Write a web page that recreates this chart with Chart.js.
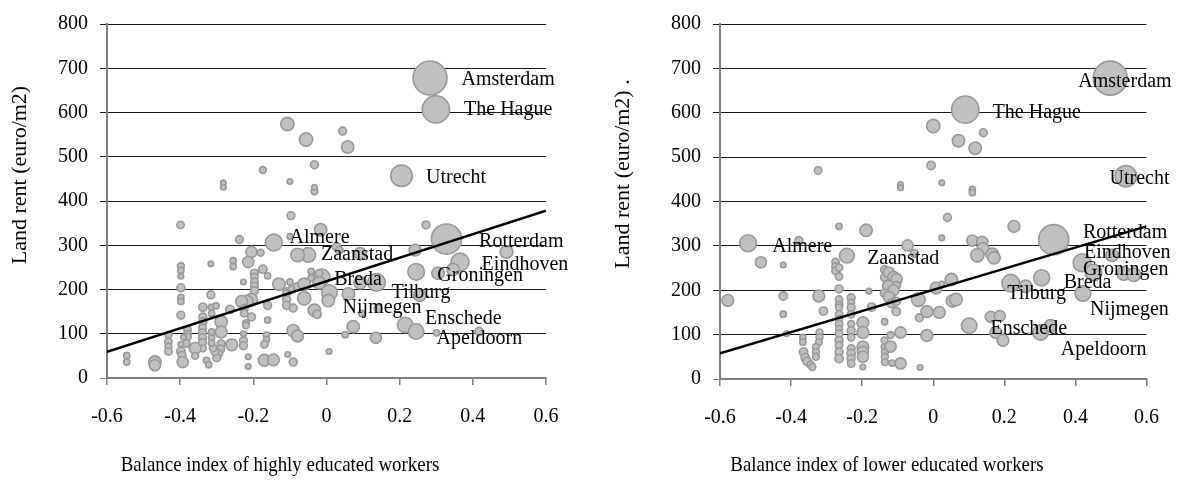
<!DOCTYPE html>
<html>
<head>
<meta charset="utf-8">
<script src="https://cdn.jsdelivr.net/npm/chart.js@4.4.0/dist/chart.umd.min.js"></script>
<style>
  body { margin: 0; background: #fff; }
  #left { position: absolute; left: 0; top: 0; }
  #right { position: absolute; left: 590px; top: 0; }
</style>
</head>
<body>
<canvas id="left" width="590" height="480"></canvas>
<canvas id="right" width="589" height="480"></canvas>
<script>
// Named cities: land rent, size (x1000 inhabitants), balance index high / low educated
const cityNames = ['Amsterdam', 'The Hague', 'Utrecht', 'Rotterdam', 'Eindhoven', 'Groningen', 'Almere',
  'Zaanstad', 'Breda', 'Tilburg', 'Nijmegen', 'Enschede', 'Apeldoorn'];
const cityRent = [678, 607, 457, 314, 262, 240, 306, 278, 228, 216, 193, 120, 105];
const cityPop = [750, 480, 300, 590, 210, 180, 185, 140, 170, 200, 160, 155, 155];
const cityHigh = [0.283, 0.299, 0.205, 0.328, 0.365, 0.245, -0.144, -0.050, -0.013, 0.137, 0.008, 0.215, 0.245];
const cityLow = [0.498, 0.090, 0.542, 0.339, 0.419, 0.451, -0.521, -0.243, 0.305, 0.218, 0.421, 0.101, 0.302];

// where the city names are written (data units, left edge of text)
const highLabelX = [0.369, 0.376, 0.272, 0.417, 0.424, 0.303, -0.101, -0.015, 0.021, 0.178, 0.044, 0.269, 0.301];
const highLabelY = [675, 607, 453, 308, 257, 232, 318, 278, 221, 193, 158, 133, 89];
const lowLabelX = [0.408, 0.167, 0.496, 0.421, 0.424, 0.421, -0.453, -0.186, 0.367, 0.208, 0.441, 0.161, 0.359];
const lowLabelY = [670, 600, 452, 329, 285, 247, 298, 272, 218, 193, 157, 114, 67];

// other municipalities, panel 1 (highly educated)
const highIndex = [
  -0.107, -0.056, 0.044, 0.058, -0.174, -0.033, -0.100, -0.033, -0.033, -0.282,
  -0.282, -0.097, -0.016, -0.238, -0.100, 0.272, -0.399, -0.079, -0.205, -0.180,
  -0.214, -0.255, -0.255, -0.316, -0.398, -0.398, -0.398, -0.398, -0.398, -0.398,
  -0.398, -0.316, -0.338, -0.314, -0.302, -0.338, -0.338, -0.314, -0.288, -0.264,
  -0.227, -0.197, -0.197, -0.197, -0.197, -0.197, -0.206, -0.218, -0.232, -0.225,
  -0.225, -0.205, -0.220, -0.220, -0.174, -0.161, -0.130, -0.100, -0.079, -0.061,
  -0.106, -0.061, -0.109, -0.109, -0.091, -0.161, -0.161, -0.164, -0.164, -0.170,
  -0.170, -0.145, -0.091, -0.079, -0.106, -0.091, -0.033, -0.026, 0.007, 0.005,
  -0.020, -0.020, -0.227, -0.227, -0.227, -0.214, -0.214, -0.259, -0.288, -0.288,
  -0.290, -0.295, -0.300, -0.305, -0.310, -0.314, -0.314, -0.314, -0.339, -0.339,
  -0.339, -0.339, -0.338, -0.359, -0.359, -0.328, -0.322, -0.380, -0.380, -0.380,
  -0.383, -0.391, -0.398, -0.398, -0.395, -0.393, -0.432, -0.432, -0.432, -0.432,
  -0.469, -0.469, -0.546, -0.546, 0.028, 0.035, 0.092, 0.242, 0.346, 0.492,
  0.305, -0.042, -0.042, 0.060, 0.092, 0.255, -0.111, -0.096, 0.096, 0.141,
  0.073, 0.051, 0.135, 0.301, 0.417
];
const highRent = [
  574, 539, 558, 522, 470, 482, 444, 422, 431, 441,
  431, 367, 335, 313, 320, 346, 346, 278, 285, 283,
  262, 265, 252, 258, 253, 243, 230, 204, 182, 173,
  142, 188, 160, 160, 163, 138, 127, 146, 127, 155,
  217, 237, 228, 217, 207, 197, 177, 173, 173, 157,
  146, 138, 124, 119, 246, 231, 212, 217, 206, 212,
  195, 180, 177, 164, 158, 164, 131, 97, 87, 76,
  40, 41, 107, 95, 53, 36, 153, 144, 60, 175,
  215, 237, 100, 84, 73, 48, 26, 75, 104, 77,
  65, 55, 46, 60, 68, 91, 79, 104, 113, 102,
  91, 80, 67, 67, 50, 40, 30, 109, 99, 93,
  78, 92, 76, 60, 51, 36, 97, 82, 71, 60,
  36, 29, 51, 36, 296, 289, 281, 289, 245, 285,
  237, 241, 226, 190, 215, 187, 193, 201, 146, 157,
  116, 98, 91, 102, 105
];
const highPop = [
  115, 115, 40, 100, 30, 40, 20, 30, 20, 20,
  20, 40, 100, 40, 20, 40, 35, 120, 80, 30,
  80, 25, 25, 20, 30, 25, 20, 40, 25, 25,
  40, 40, 45, 25, 25, 40, 40, 25, 100, 45,
  20, 40, 35, 35, 40, 40, 100, 100, 90, 40,
  35, 40, 30, 30, 45, 25, 100, 25, 45, 100,
  40, 115, 40, 40, 40, 40, 25, 25, 25, 35,
  90, 90, 100, 90, 20, 40, 100, 45, 20, 100,
  100, 35, 20, 40, 40, 20, 20, 90, 90, 40,
  45, 40, 40, 40, 35, 25, 25, 25, 40, 40,
  40, 40, 30, 90, 30, 25, 25, 35, 35, 35,
  35, 20, 20, 45, 40, 80, 30, 35, 30, 35,
  100, 80, 25, 25, 45, 35, 100, 90, 100, 105,
  100, 25, 25, 100, 100, 100, 25, 25, 25, 40,
  100, 25, 80, 25, 45
];

// other municipalities, panel 2 (lower educated)
const lowIndex = [
  0.000, 0.071, 0.118, 0.141, -0.006, 0.024, -0.092, -0.092, 0.110, 0.110,
  0.040, 0.227, 0.024, -0.324, -0.265, -0.189, -0.378, -0.485, -0.422, -0.072,
  -0.053, -0.275, -0.275, -0.275, -0.265, -0.265, -0.265, -0.265, -0.265, -0.265,
  -0.265, -0.265, -0.265, -0.265, -0.265, -0.265, -0.265, -0.265, -0.265, -0.231,
  -0.231, -0.231, -0.231, -0.231, -0.231, -0.231, -0.231, -0.231, -0.231, -0.231,
  -0.198, -0.198, -0.198, -0.198, -0.198, -0.198, -0.322, -0.309, -0.320, -0.320,
  -0.322, -0.330, -0.330, -0.330, -0.367, -0.367, -0.365, -0.360, -0.355, -0.345,
  -0.340, -0.422, -0.422, -0.413, -0.578, -0.173, -0.137, -0.137, -0.125, -0.112,
  -0.103, -0.104, -0.127, -0.112, -0.137, -0.125, -0.118, -0.104, -0.104, -0.137,
  -0.137, -0.137, -0.136, -0.136, -0.136, -0.120, -0.120, -0.116, -0.092, -0.092,
  -0.039, -0.018, -0.018, -0.042, 0.017, 0.008, 0.024, 0.051, 0.054, -0.037,
  -0.181, 0.110, 0.138, 0.140, 0.124, 0.166, 0.171, 0.503, 0.536, 0.564,
  0.260, 0.064, 0.162, 0.187, 0.176, 0.196, 0.330
];
const lowRent = [
  570, 537, 520, 555, 481, 442, 438, 431, 427, 420,
  364, 344, 318, 470, 344, 335, 312, 263, 257, 301,
  283, 264, 253, 244, 251, 231, 203, 179, 167, 161,
  146, 135, 124, 113, 102, 87, 76, 61, 46, 183,
  172, 161, 146, 124, 109, 94, 68, 57, 46, 35,
  127, 105, 72, 61, 50, 27, 187, 153, 105, 94,
  83, 72, 61, 50, 94, 83, 61, 48, 40, 32,
  27, 187, 146, 102, 177, 162, 246, 229, 240, 230,
  225, 210, 210, 200, 193, 185, 170, 175, 152, 129,
  87, 72, 61, 50, 38, 99, 73, 36, 105, 35,
  138, 152, 98, 179, 150, 205, 214, 224, 176, 26,
  198, 312, 309, 294, 279, 281, 273, 279, 238, 235,
  209, 179, 140, 142, 105, 87, 120
];
const lowPop = [
  115, 100, 100, 40, 45, 20, 20, 20, 25, 25,
  40, 90, 20, 35, 25, 100, 40, 80, 20, 80,
  40, 35, 35, 35, 35, 35, 40, 35, 35, 30,
  35, 30, 35, 30, 35, 40, 35, 40, 45, 40,
  30, 40, 35, 30, 40, 35, 40, 45, 40, 35,
  90, 90, 90, 80, 80, 20, 90, 45, 30, 30,
  30, 30, 30, 30, 25, 25, 45, 45, 45, 35,
  30, 45, 25, 20, 90, 45, 40, 40, 80, 80,
  80, 45, 80, 80, 45, 80, 45, 45, 45, 25,
  30, 30, 30, 30, 30, 30, 80, 25, 80, 80,
  40, 90, 90, 120, 90, 90, 20, 100, 100, 20,
  20, 80, 80, 90, 115, 100, 100, 100, 120, 120,
  100, 100, 80, 80, 90, 90, 100
];

// fitted lines, value at x = -0.6 and x = 0.6
const trendX = [-0.6, 0.6];
const highTrend = [59, 378];
const lowTrend = [58, 344];

const xTickLabels = ['-0.6', '-0.4', '-0.2', '0', '0.2', '0.4', '0.6'];
const yTitleHigh = 'Land rent (euro/m2)';
const yTitleLow = 'Land rent (euro/m2) .';
const xTitleHigh = 'Balance index of highly educated workers';
const xTitleLow = 'Balance index of lower educated workers';

const SERIF = '"Liberation Serif", "Times New Roman", serif';
Chart.defaults.font.family = SERIF;
Chart.defaults.color = '#000';

// bubble radius from municipality size
function radius(pop) {
    return 0.62 * Math.sqrt(pop);
}

function bubbles(xs, rents, pops) {
    return xs.map((x, i) => ({x: x, y: rents[i], r: radius(pops[i])}));
}

// city names and axis titles drawn as text on the canvas
const textPlugin = {
    id: 'panelText',
    afterDatasetsDraw(chart, args, opts) {
        const ctx = chart.ctx;
        const xs = chart.scales.x, ys = chart.scales.y;
        ctx.save();
        ctx.fillStyle = '#000';
        ctx.font = '20px ' + SERIF;
        ctx.textAlign = 'left';
        ctx.textBaseline = 'middle';
        opts.names.forEach((name, i) => {
            ctx.fillText(name, xs.getPixelForValue(opts.labelX[i]), ys.getPixelForValue(opts.labelY[i]));
        });
        ctx.textAlign = 'center';
        // x title: narrow, tall lettering as in the original
        ctx.save();
        ctx.font = '21px ' + SERIF;
        ctx.translate(opts.xTitlePos[0], opts.xTitlePos[1]);
        ctx.scale(0.9, 1);
        ctx.fillText(opts.xTitle, 0, 0);
        ctx.restore();
        ctx.font = '22px ' + SERIF;
        ctx.translate(opts.yTitlePos[0], opts.yTitlePos[1]);
        ctx.rotate(-Math.PI / 2);
        ctx.fillText(opts.yTitle, 0, 0);
        ctx.restore();
    }
};

function drawPanel(id, points, trend, labelX, labelY, texts, box) {
    const ctx = document.getElementById(id);
    return new Chart(ctx, {
        type: 'bubble',
        data: {
            datasets: [{
                type: 'line',
                data: trendX.map((x, i) => ({x: x, y: trend[i]})),
                borderColor: '#000',
                borderWidth: 2.5,
                pointRadius: 0,
                order: 0
            }, {
                data: points,
                backgroundColor: '#c0c0c0',
                borderColor: '#999999',
                borderWidth: 1.6,
                order: 1
            }]
        },
        options: {
            responsive: false,
            animation: false,
            events: [],
            layout: {padding: {left: 0, top: box.top, right: box.right, bottom: 0}},
            plugins: {
                legend: {display: false},
                tooltip: {enabled: false},
                panelText: {
                    names: cityNames, labelX: labelX, labelY: labelY,
                    xTitle: texts.x, yTitle: texts.y,
                    xTitlePos: box.xTitlePos, yTitlePos: box.yTitlePos
                }
            },
            scales: {
                x: {
                    type: 'linear',
                    min: -0.6, max: 0.6,
                    afterFit: (s) => { s.height = box.xHeight; },
                    ticks: {
                        stepSize: 0.2,
                        padding: 20,
                        font: {size: 20},
                        callback: (v) => xTickLabels[Math.round((v + 0.6) / 0.2)]
                    },
                    grid: {drawOnChartArea: false, drawTicks: true, tickLength: 7, color: '#808080', lineWidth: 1.5},
                    border: {color: '#808080', width: 2}
                },
                y: {
                    min: 0, max: 800,
                    afterFit: (s) => { s.width = box.yWidth; },
                    ticks: {stepSize: 100, padding: 12, font: {size: 20}},
                    grid: {
                        tickLength: 7,
                        color: (c) => c.tick && c.tick.value === 0 ? '#808080' : '#1a1a1a',
                        lineWidth: 1
                    },
                    border: {color: '#808080', width: 2}
                }
            }
        },
        plugins: [textPlugin]
    });
}

drawPanel('left',
    bubbles(cityHigh, cityRent, cityPop).concat(bubbles(highIndex, highRent, highPop)),
    highTrend, highLabelX, highLabelY,
    {x: xTitleHigh, y: yTitleHigh},
    {top: 14, right: 44, yWidth: 107, xHeight: 102, xTitlePos: [280, 465], yTitlePos: [20, 175]});

drawPanel('right',
    bubbles(cityLow, cityRent, cityPop).concat(bubbles(lowIndex, lowRent, lowPop)),
    lowTrend, lowLabelX, lowLabelY,
    {x: xTitleLow, y: yTitleLow},
    {top: 19, right: 31, yWidth: 130, xHeight: 101, xTitlePos: [297, 465], yTitlePos: [33, 174]});
</script>
</body>
</html>
